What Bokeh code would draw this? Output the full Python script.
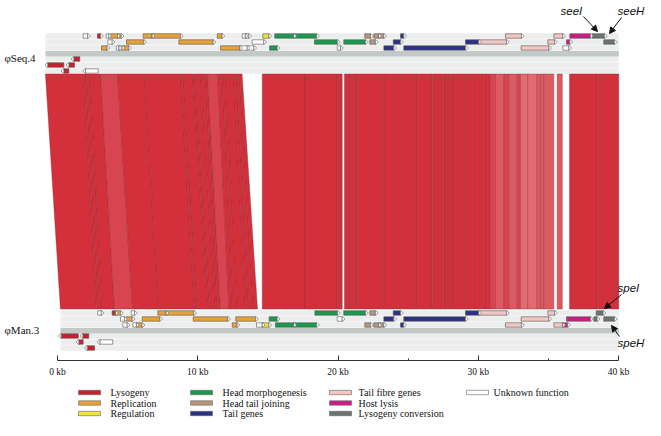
import numpy as np
from bokeh.plotting import figure
from bokeh.models import Range1d, LinearAxis, FixedTicker, Arrow, NormalHead, ColumnDataSource
from bokeh.layouts import column
from bokeh.embed import file_html
from bokeh.resources import INLINE
from bokeh.core.properties import value

# ---------------- data ----------------
categories = ["Lysogeny", "Replication", "Regulation", "Head morphogenesis", "Head tail joining",
              "Tail genes", "Tail fibre genes", "Host lysis", "Lysogeny conversion", "Unknown function"]
cat_keys = ["lys", "rep", "reg", "head", "ht", "tail", "fib", "lysis", "conv", "unk"]
cat_colors = ["#c8202f", "#e8a13a", "#f2e33c", "#1b9a4f", "#b8967a",
              "#2b3185", "#f3c6c4", "#cc1b82", "#6b7472", "#ffffff"]

genome_names = ["\u03c6Seq.4", "\u03c6Man.3"]
genome_spans = [(-0.86, 40.02), (0.21, 40.02)]

# phiSeq.4 genes (kb); frame >0 forward, <0 reverse
seq4_start = [1.83, 2.85, 3.47, 3.78, 4.28, 6.11, 6.75, 11.39, 13.17, 13.40, 14.64, 15.49, 16.85, 21.91, 22.55, 22.91, 24.46, 31.94, 35.39, 36.53, 38.12,
              3.59, 4.92, 8.65, 13.88, 18.32, 20.41, 22.27, 23.94, 29.09, 30.04, 34.96, 36.29, 38.95,
              3.14, 4.19, 4.39, 4.66, 11.62, 13.00, 13.60, 15.12, 19.94, 23.27, 24.69, 33.06, 36.03,
              1.16, -0.70, 0.81, 0.45, 2.00]
seq4_end = [2.15, 3.07, 3.66, 4.28, 4.54, 6.75, 8.77, 11.74, 13.40, 13.64, 15.07, 16.85, 18.47, 22.32, 22.91, 23.27, 24.69, 33.08, 36.03, 38.00, 39.00,
            3.90, 6.15, 11.10, 14.71, 19.96, 21.96, 22.67, 24.46, 30.04, 32.01, 35.44, 36.53, 39.71,
            3.54, 4.39, 4.61, 5.08, 13.00, 13.53, 14.00, 15.67, 20.18, 23.98, 29.09, 35.03, 36.46,
            1.59, 0.45, 1.21, 0.81, 2.90]
seq4_frame = [1] * 21 + [2] * 13 + [3] * 13 + [-1, -2, -2, -3, -3]
seq4_cat = ["unk", "lys", "unk", "rep", "rep", "rep", "rep", "rep", "unk", "unk", "reg", "head", "head", "ht", "ht", "ht", "tail", "fib", "fib", "lysis", "conv",
            "unk", "rep", "rep", "unk", "head", "head", "ht", "tail", "tail", "fib", "fib", "lysis", "conv",
            "rep", "unk", "unk", "rep", "rep", "unk", "unk", "head", "unk", "tail", "tail", "fib", "unk",
            "lys", "lys", "lys", "lys", "unk"]

# phiMan.3 genes (kb)
man3_start = [2.87, 3.90, 4.14, 5.26, 7.15, 7.75, 18.35, 20.41, 22.27, 23.94, 29.09, 30.04, 34.96, 38.41,
              4.49, 4.90, 6.04, 9.68, 12.71, 15.09, 19.94, 23.27, 24.69, 33.06, 36.29, 38.24, 38.95,
              4.66, 5.37, 5.63, 12.46, 14.19, 14.60, 15.54, 16.85, 21.91, 22.55, 22.91, 24.46, 31.94, 35.39, 36.03,
              0.26, 1.80, 1.52, 3.02, 2.12]
man3_end = [3.12, 4.14, 4.49, 5.49, 7.75, 9.72, 19.96, 21.96, 22.67, 24.46, 30.04, 32.01, 35.44, 38.91,
            4.78, 5.33, 7.29, 12.14, 14.12, 15.67, 20.30, 23.98, 29.09, 35.03, 38.00, 38.48, 39.71,
            4.97, 5.63, 6.04, 12.81, 14.60, 15.07, 16.85, 18.47, 22.32, 22.91, 23.27, 24.69, 33.08, 36.03, 36.38,
            1.48, 2.23, 1.83, 3.94, 2.64]
man3_frame = [1] * 14 + [2] * 13 + [3] * 15 + [-1, -1, -2, -2, -3]
man3_cat = ["unk", "lys", "rep", "unk", "rep", "rep", "head", "head", "ht", "tail", "tail", "fib", "fib", "conv",
            "unk", "rep", "rep", "rep", "rep", "head", "unk", "tail", "tail", "fib", "lysis", "conv", "conv",
            "unk", "unk", "rep", "rep", "unk", "reg", "head", "head", "ht", "ht", "ht", "tail", "fib", "fib", "lysis",
            "lys", "lys", "lys", "unk", "lys"]

# synteny: slanted block (edges on phiSeq.4 and on phiMan.3, kb)
syn_left_top = [-0.86, 1.85, 2.03, 2.28, 3.07, 4.28, 6.20, 8.77, 8.98, 9.63, 9.77, 10.20, 10.55, 10.70, 11.41, 11.77, 11.98, 12.55, 12.76, 12.98, 13.16]
syn_left_bot = [0.21, 2.78, 2.96, 3.21, 4.06, 5.35, 7.20, 9.77, 9.98, 10.70, 10.87, 11.27, 11.41, 11.62, 12.23, 12.48, 12.83, 13.41, 13.65, 13.98, 14.26]
syn_left_shade = [0, 0, 0, 0, 1, 0, 0, 0, 0, 0, 0, 0, 0, 1, 0, 0, 0, 0, 0, 0]
# collinear blocks (same coordinates on both genomes)
syn_blocks = [
    [14.60, 17.65, 19.94, 20.18, 20.30],
    [20.46, 20.77, 21.25, 21.37, 23.27, 24.10, 24.46, 25.40, 25.65, 26.47, 26.72, 26.95, 27.43, 27.62, 28.02, 28.19,
     28.61, 29.09, 29.68, 30.16, 30.64, 30.87, 31.23, 31.82, 32.18, 32.78, 33.01, 33.53, 34.20, 34.44, 34.67, 35.39],
    [35.63, 35.99],
    [36.51, 38.48, 38.72, 39.79, 40.02],
]
syn_block_shades = [
    [0, 0, 0, 0],
    [0] * 21 + [1, 2, 1, 2, 1, 3, 3, 2, 2, 2],
    [2],
    [0, 0, 0, 0],
]
shade_colors = ["#d3303b", "#d84550", "#dc5a62", "#e26c72"]

tick_values = [0, 10, 20, 30, 40]
minor_values = [5, 15, 25, 35]
tick_labels = ["0 kb", "10 kb", "20 kb", "30 kb", "40 kb"]

annot_text = ["seeI", "seeH", "speI", "speH"]

# ---------------- layout ----------------
W = 645
PX_PER_KB = 14.025
X0_PX = 57.0
def px2kb(px):
    return (px - X0_PX) / PX_PER_KB

p = figure(width=W, height=380, output_backend="svg", toolbar_location=None,
           x_range=Range1d(px2kb(0), px2kb(W)), y_range=Range1d(360, 0),
           x_axis_location=None, y_axis_location=None,
           min_border_left=0, min_border_right=0, min_border_top=0, min_border_bottom=20,
           outline_line_color=None, background_fill_color="white", border_fill_color="white")
p.grid.visible = False

genome_base = [35.5, 312.5]
frame_off = {1: 0, 2: 6, 3: 12, -1: 23, -2: 29, -3: 35}
SYN_TOP, SYN_BOT = 73.5, 308.5
TIP = 0.2

# track backgrounds
for gi, base in enumerate(genome_base):
    x0, x1 = genome_spans[gi]
    rows = [base + o for o in frame_off.values()]
    p.quad(left=[x0] * len(rows), right=[x1] * len(rows),
           top=[r - 2.8 for r in rows], bottom=[r + 2.8 for r in rows],
           fill_color="#eceeed", line_color=None)
    p.quad(left=[x0], right=[x1], top=[base + 15], bottom=[base + 20.5],
           fill_color="#c3c9c7", line_color=None)

# synteny patches
sxs, sys_, scol = [], [], []
for i in range(len(syn_left_shade)):
    sxs.append([syn_left_top[i], syn_left_top[i + 1], syn_left_bot[i + 1], syn_left_bot[i]])
    sys_.append([SYN_TOP, SYN_TOP, SYN_BOT, SYN_BOT])
    scol.append(shade_colors[syn_left_shade[i]])
for edges, shades in zip(syn_blocks, syn_block_shades):
    for i in range(len(shades)):
        sxs.append([edges[i], edges[i + 1], edges[i + 1], edges[i]])
        sys_.append([SYN_TOP, SYN_TOP, SYN_BOT, SYN_BOT])
        scol.append(shade_colors[shades[i]])
p.patches(xs=sxs, ys=sys_, fill_color=scol, line_color="#8e2a33", line_width=0.5, line_alpha=0.8)

def draw_genes(starts, ends, frames, cats, base):
    ys = [base + frame_off[f] for f in frames]
    cols = [cat_colors[cat_keys.index(c)] for c in cats]
    src = ColumnDataSource(dict(left=starts, right=ends,
                                top=[y - 2.2 for y in ys], bottom=[y + 2.2 for y in ys], color=cols))
    p.quad(left="left", right="right", top="top", bottom="bottom", fill_color="color",
           line_color="#555555", line_width=0.6, source=src)
    txs, tys = [], []
    for s, e, f, y in zip(starts, ends, frames, ys):
        if f > 0:
            txs.append([e, e + TIP, e])
        else:
            txs.append([s, s - TIP, s])
        tys.append([y - 2.6, y, y + 2.6])
    p.patches(xs=txs, ys=tys, fill_color="white", line_color="#666666", line_width=0.6)

draw_genes(seq4_start, seq4_end, seq4_frame, seq4_cat, genome_base[0])
draw_genes(man3_start, man3_end, man3_frame, man3_cat, genome_base[1])

# genome names
p.text(x=[px2kb(4)] * 2, y=[57, 329], text=genome_names, text_font=value("Liberation Serif"),
       text_font_size="11px", text_baseline="middle", text_align="left", text_color="#111111")

# gene annotations
ann_x = [px2kb(560), px2kb(617), px2kb(617), px2kb(617)]
ann_y = [10, 10, 287, 342]
p.text(x=ann_x, y=ann_y, text=annot_text, text_font=value("Liberation Sans"), text_font_style="italic",
       text_font_size="11.5px", text_baseline="middle", text_align="left", text_color="#111111")
arrow_from = [(583, 16), (621, 17), (621, 294), (619, 336)]
arrow_to = [(597, 31), (609, 33), (604, 308), (611, 325)]
for (xs0, ys0), (xs1, ys1) in zip(arrow_from, arrow_to):
    p.add_layout(Arrow(end=NormalHead(size=6, fill_color="#111111", line_color="#111111"),
                       x_start=px2kb(xs0), y_start=ys0, x_end=px2kb(xs1), y_end=ys1,
                       line_color="#111111", line_width=1))

# axis
ax = LinearAxis(ticker=FixedTicker(ticks=tick_values, minor_ticks=minor_values),
                major_label_overrides={t: l for t, l in zip(tick_values, tick_labels)},
                bounds=(0, 40), axis_line_color="#333333", axis_line_width=1,
                major_tick_in=5, major_tick_out=0, minor_tick_in=2, minor_tick_out=0,
                major_tick_line_color="#333333", minor_tick_line_color="#333333",
                major_label_standoff=6, major_label_text_font="Liberation Serif",
                major_label_text_font_size="9.5px", major_label_text_color="#111111")
p.add_layout(ax, "below")

# ---------------- legend ----------------
lg = figure(width=W, height=40, output_backend="svg", toolbar_location=None,
            x_range=Range1d(0, W), y_range=Range1d(420, 380),
            x_axis_location=None, y_axis_location=None,
            min_border_left=0, min_border_right=0, min_border_top=0, min_border_bottom=0,
            outline_line_color=None, background_fill_color="white", border_fill_color="white")
lg.grid.visible = False
col_box_x = [78, 190, 329, 466]
col_text_x = [110, 222, 358, 493]
row_y = [392, 402.5, 413]
bl, br, bt, bb, tx, ty = [], [], [], [], [], []
for i, name in enumerate(categories):
    c, r = i // 3, i % 3
    bl.append(col_box_x[c]); br.append(col_box_x[c] + 22)
    bt.append(row_y[r] - 2.2); bb.append(row_y[r] + 2.2)
    tx.append(col_text_x[c]); ty.append(row_y[r])
lg.quad(left=bl, right=br, top=bt, bottom=bb, fill_color=cat_colors, line_color="#666666", line_width=0.6)
lg.text(x=tx, y=ty, text=categories, text_font=value("Liberation Serif"), text_font_size="10px",
        text_baseline="middle", text_align="left", text_color="#111111")

layout = column(p, lg)
open("out.html", "w").write(file_html(layout, INLINE))
